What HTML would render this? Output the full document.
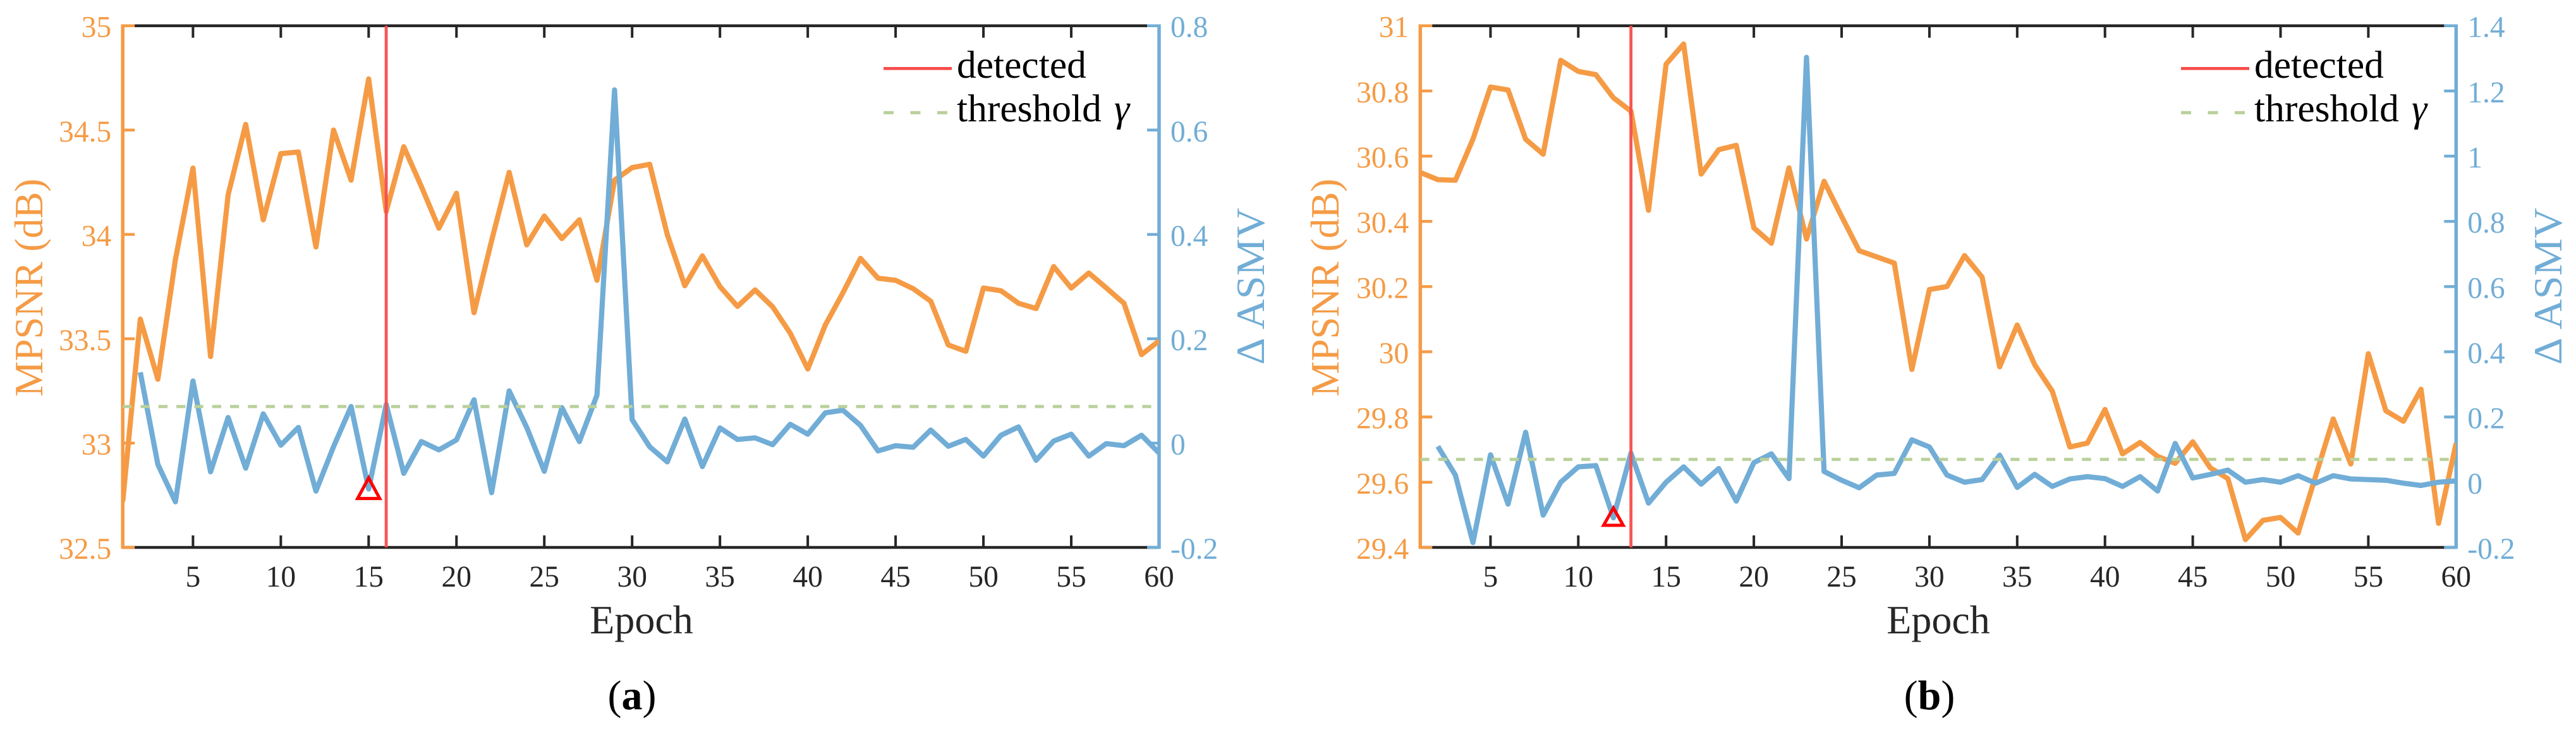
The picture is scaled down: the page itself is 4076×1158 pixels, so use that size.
<!DOCTYPE html>
<html lang="en">
<head>
<meta charset="utf-8">
<title>MPSNR and delta ASMV over epochs</title>
<style>
html,body{margin:0;padding:0;background:#fff;width:4076px;height:1158px;overflow:hidden}
svg{display:block}
text{font-family:"Liberation Serif","DejaVu Serif",serif}
</style>
</head>
<body>
<svg id="figure" width="4076" height="1158" viewBox="0 0 4076 1158" xmlns="http://www.w3.org/2000/svg"></svg>
<script>
const xTickValues = [5,10,15,20,25,30,35,40,45,50,55,60];
const xTickLabels = ['5','10','15','20','25','30','35','40','45','50','55','60'];

const mpsnrA = [32.72,33.594,33.306,33.88,34.318,33.415,34.19,34.527,34.07,34.387,34.395,33.94,34.5,34.26,34.745,34.11,34.42,34.23,34.03,34.197,33.625,33.97,34.297,33.95,34.088,33.98,34.07,33.78,34.26,34.32,34.336,34.0,33.754,33.897,33.75,33.655,33.734,33.653,33.527,33.355,33.566,33.72,33.885,33.79,33.78,33.74,33.68,33.47,33.44,33.743,33.73,33.67,33.645,33.846,33.743,33.815,33.743,33.67,33.424,33.49];
const asmvA = [null,0.1356,-0.041,-0.1125,0.119,-0.055,0.049,-0.048,0.056,-0.004,0.03,-0.092,-0.007,0.07,-0.088,0.074,-0.058,0.003,-0.013,0.006,0.083,-0.095,0.1,0.03,-0.054,0.068,0.003,0.092,0.677,0.045,-0.007,-0.036,0.046,-0.045,0.029,0.007,0.01,-0.003,0.036,0.017,0.058,0.063,0.034,-0.015,-0.005,-0.008,0.025,-0.006,0.007,-0.025,0.015,0.031,-0.033,0.004,0.017,-0.025,-0.001,-0.005,0.015,-0.019];
const leftTicksA = [32.5,33,33.5,34,34.5,35];
const leftLabelsA = ['32.5','33','33.5','34','34.5','35'];
const rightTicksA = [-0.2,0,0.2,0.4,0.6,0.8];
const rightLabelsA = ['-0.2','0','0.2','0.4','0.6','0.8'];
const detectedEpochA = 15;
const thresholdA = 0.07;

const mpsnrB = [30.55,30.528,30.526,30.652,30.812,30.803,30.652,30.606,30.894,30.86,30.85,30.779,30.738,30.434,30.882,30.944,30.545,30.62,30.633,30.38,30.333,30.564,30.346,30.523,30.415,30.31,30.291,30.272,29.946,30.191,30.2,30.295,30.229,29.954,30.082,29.96,29.879,29.708,29.72,29.823,29.687,29.722,29.679,29.658,29.724,29.644,29.611,29.424,29.483,29.492,29.444,29.619,29.794,29.656,29.994,29.819,29.787,29.885,29.474,29.719];
const asmvB = [null,0.11,0.022,-0.185,0.084,-0.067,0.153,-0.101,0,0.047,0.051,-0.109,0.089,-0.064,0,0.047,-0.006,0.042,-0.058,0.06,0.087,0.011,1.303,0.033,0.006,-0.017,0.022,0.027,0.13,0.108,0.022,0,0.008,0.083,-0.016,0.024,-0.013,0.01,0.017,0.011,-0.013,0.017,-0.027,0.119,0.013,0.024,0.037,0,0.008,0,0.02,-0.003,0.02,0.01,0.008,0.006,-0.003,-0.01,0,0.004];
const leftTicksB = [29.4,29.6,29.8,30,30.2,30.4,30.6,30.8,31];
const leftLabelsB = ['29.4','29.6','29.8','30','30.2','30.4','30.6','30.8','31'];
const rightTicksB = [-0.2,0,0.2,0.4,0.6,0.8,1,1.2,1.4];
const rightLabelsB = ['-0.2','0','0.2','0.4','0.6','0.8','1','1.2','1.4'];
const detectedEpochB = 12;
const thresholdB = 0.07;

const ORANGE = '#f59b45', BLUE = '#71add6', RED = '#f94c4c', GREEN = '#b9d09a', DARK = '#262626';
const NS = 'http://www.w3.org/2000/svg';
const figure = document.getElementById('figure');

function mk(tag, attrs, parent, content) {
  const el = document.createElementNS(NS, tag);
  for (const k in attrs) el.setAttribute(k, attrs[k]);
  if (content !== undefined) el.textContent = content;
  parent.appendChild(el);
  return el;
}

function drawPanel(cfg) {
  const top = 40.7, bottom = 866;
  const sx = e => cfg.left + (e - 1) * (cfg.right - cfg.left) / 59;
  const sl = v => bottom - (v - cfg.leftTicks[0]) / (cfg.leftTicks[cfg.leftTicks.length - 1] - cfg.leftTicks[0]) * (bottom - top);
  const sr = v => bottom - (v - cfg.rightTicks[0]) / (cfg.rightTicks[cfg.rightTicks.length - 1] - cfg.rightTicks[0]) * (bottom - top);

  const g = mk('g', {}, figure);
  
  

  const defs = mk('defs', {}, g);
  const clip = mk('clipPath', {id: cfg.id + '-clip'}, defs);
  mk('rect', {x: cfg.left, y: top - 4, width: cfg.right - cfg.left, height: bottom - top + 8}, clip);

  const topAxis = mk('line', {x1: cfg.left, x2: cfg.right, y1: top, y2: top, stroke: DARK, 'stroke-width': 4.5}, g);
  
  
  const bottomAxis = mk('line', {x1: cfg.left, x2: cfg.right, y1: bottom, y2: bottom, stroke: DARK, 'stroke-width': 4.5}, g);
  
  

  xTickValues.forEach((v, i) => {
    const x = sx(v);
    const t1 = mk('line', {x1: x, x2: x, y1: top, y2: top + 19, stroke: DARK, 'stroke-width': 4}, g);
    
    
    const t2 = mk('line', {x1: x, x2: x, y1: bottom, y2: bottom - 19, stroke: DARK, 'stroke-width': 4}, g);
    
    
    const lab = mk('text', {x: x, y: 928, 'text-anchor': 'middle', 'font-size': 47.5, fill: DARK}, g, xTickLabels[i]);
    
    
  });

  const leftAxis = mk('line', {x1: cfg.left, x2: cfg.left, y1: top - 2.25, y2: bottom + 2.25, stroke: ORANGE, 'stroke-width': 5.5}, g);
  
  
  const rightAxis = mk('line', {x1: cfg.right, x2: cfg.right, y1: top - 2.25, y2: bottom + 2.25, stroke: BLUE, 'stroke-width': 5.5}, g);
  
  

  cfg.leftTicks.forEach((v, i) => {
    const y = sl(v);
    const t = mk('line', {x1: cfg.left, x2: cfg.left + 19, y1: y, y2: y, stroke: ORANGE, 'stroke-width': 4.5}, g);
    
    
    const lab = mk('text', {x: cfg.left - 18, y: y + 18, 'text-anchor': 'end', 'font-size': 47.5, fill: ORANGE}, g, cfg.leftLabels[i]);
    
    
  });
  cfg.rightTicks.forEach((v, i) => {
    const y = sr(v);
    const t = mk('line', {x1: cfg.right, x2: cfg.right - 19, y1: y, y2: y, stroke: BLUE, 'stroke-width': 4.5}, g);
    
    
    const lab = mk('text', {x: cfg.right + 18, y: y + 18, 'font-size': 47.5, fill: BLUE}, g, cfg.rightLabels[i]);
    
    
  });

  const seriesGroup = mk('g', {'clip-path': 'url(#' + cfg.id + '-clip)'}, g);
  
  

  const toPoints = (vals, sy) => vals.map((v, i) => v === null ? null : sx(i + 1).toFixed(2) + ',' + sy(v).toFixed(2)).filter(Boolean).join(' ');

  const mp = mk('polyline', {points: toPoints(cfg.mpsnr, sl), fill: 'none', stroke: ORANGE, 'stroke-width': 8.2, 'stroke-linejoin': 'round'}, seriesGroup);
  
  
  const as = mk('polyline', {points: toPoints(cfg.asmv, sr), fill: 'none', stroke: BLUE, 'stroke-width': 8.2, 'stroke-linejoin': 'round'}, seriesGroup);
  
  

  const thY = sr(cfg.threshold);
  const th = mk('line', {x1: cfg.left, x2: cfg.right, y1: thY, y2: thY, stroke: GREEN, 'stroke-width': 5, 'stroke-dasharray': '14.3 14'}, seriesGroup);
  
  

  const detX = sx(cfg.detected + 1);
  const det = mk('line', {x1: detX, x2: detX, y1: top, y2: bottom, stroke: RED, 'stroke-width': 4.8, opacity: 0.95}, g);
  
  

  const mx = sx(cfg.detected), my = sr(cfg.asmv[cfg.detected - 1]);
  const tri = mk('polygon', {
    points: mx + ',' + (my - cfg.tri[0]) + ' ' + (mx - cfg.tri[1]) + ',' + (my + cfg.tri[2]) + ' ' + (mx + cfg.tri[1]) + ',' + (my + cfg.tri[2]),
    fill: 'none', stroke: '#ff0000', 'stroke-width': 5, 'stroke-miterlimit': 6
  }, g);
  
  

  const lx1 = cfg.legendX, ltx = cfg.legendX + 116;
  const l1 = mk('line', {x1: lx1, x2: lx1 + 108, y1: 108.4, y2: 108.4, stroke: RED, 'stroke-width': 4.8}, g);
  
  
  const t1 = mk('text', {x: ltx, y: 123, 'font-size': 61.5, fill: '#000'}, g, 'detected');
  
  
  const l2 = mk('line', {x1: lx1, x2: lx1 + 101, y1: 178.3, y2: 178.3, stroke: GREEN, 'stroke-width': 5, 'stroke-dasharray': '16 26.5'}, g);
  
  
  const t2 = mk('text', {x: ltx, y: 192, 'font-size': 61.5, fill: '#000'}, g, 'threshold ');
  
  
  mk('tspan', {x: ltx + 249, 'font-style': 'italic'}, t2, 'γ');

  const yl = mk('text', {transform: 'translate(' + cfg.yTitleX + ',455) rotate(-90)', 'text-anchor': 'middle', 'font-size': 63, fill: ORANGE}, g, 'MPSNR (dB)');
  
  
  const yr = mk('text', {transform: 'translate(' + cfg.y2TitleX + ',453) rotate(-90)', 'text-anchor': 'middle', 'font-size': 64, textLength: 248, lengthAdjust: 'spacingAndGlyphs', fill: BLUE}, g, 'Δ ASMV');
  
  
  const xl = mk('text', {x: cfg.titleX, y: 1002, 'text-anchor': 'middle', 'font-size': 64, fill: DARK}, g, 'Epoch');
  
  

  const cap = mk('text', {x: cfg.captionX, y: 1122, 'text-anchor': 'middle', 'font-size': 66, fill: '#000'}, g);
  
  
  mk('tspan', {}, cap, '(');
  mk('tspan', {'font-weight': 'bold'}, cap, cfg.caption);
  mk('tspan', {}, cap, ')');
}

drawPanel({
  id: 'a', left: 194.2, right: 1834, caption: 'a', mpsnr: mpsnrA, asmv: asmvA,
  leftTicks: leftTicksA, leftLabels: leftLabelsA, rightTicks: rightTicksA, rightLabels: rightLabelsA,
  detected: detectedEpochA, threshold: thresholdA, tri: [17.5, 17.5, 15],
  legendX: 1398, yTitleX: 67, y2TitleX: 2000, titleX: 1015, captionX: 1000
});
drawPanel({
  id: 'b', left: 2247.3, right: 3886.3, caption: 'b', mpsnr: mpsnrB, asmv: asmvB,
  leftTicks: leftTicksB, leftLabels: leftLabelsB, rightTicks: rightTicksB, rightLabels: rightLabelsB,
  detected: detectedEpochB, threshold: thresholdB, tri: [15.5, 15.5, 12],
  legendX: 3451, yTitleX: 2118, y2TitleX: 4053, titleX: 3067, captionX: 3053
});
</script>
</body>
</html>
